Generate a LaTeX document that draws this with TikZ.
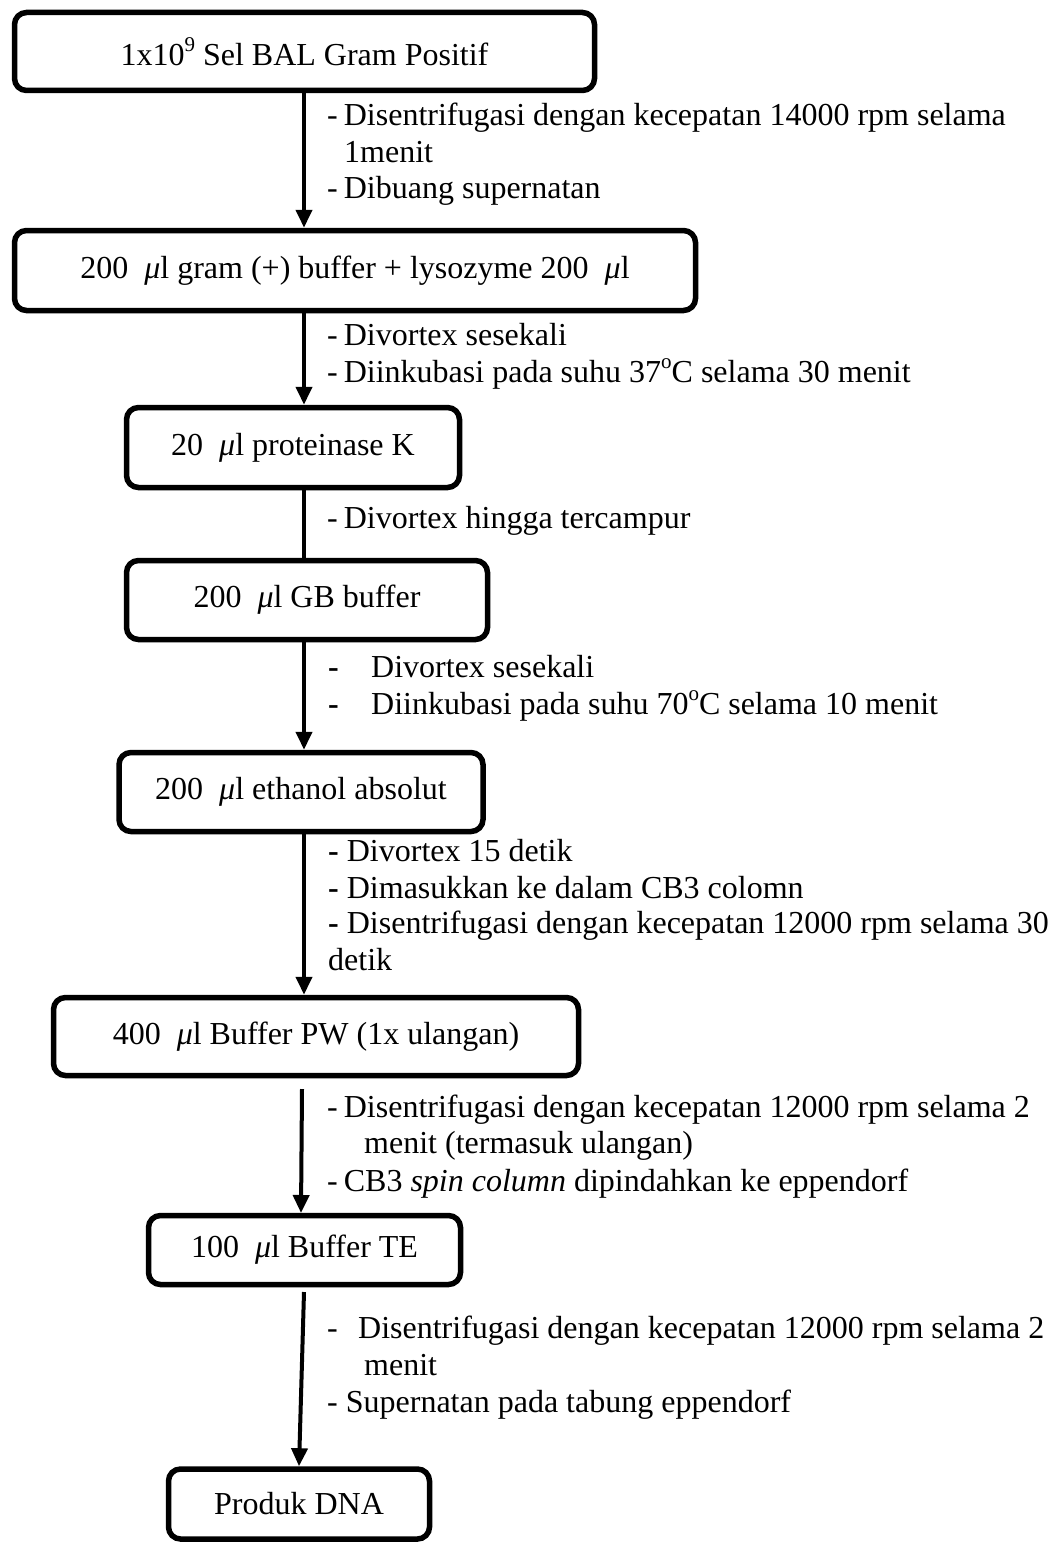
\documentclass[tikz,border=0pt]{standalone}
\usepackage{fontspec}
\setmainfont{Liberation Serif}
\usetikzlibrary{arrows.meta}
\newcommand{\mul}{{\itshape μ}l}
\newcommand{\supx}[1]{\raisebox{0.42em}{\fontsize{21}{21}\selectfont #1}}
\begin{document}
\begin{tikzpicture}[x=1pt,y=-1pt,
  box/.style={draw,line width=5.5pt,rounded corners=12pt,inner sep=0pt,align=center,
    font=\fontsize{32}{36}\selectfont},
  conn/.style={line width=4pt},
  arr/.style={conn,-{Triangle[width=16pt,length=18pt]}},
  lbl/.style={anchor=base west,inner sep=0pt,font=\fontsize{32}{36}\selectfont}]
\useasboundingbox (0,0) rectangle (1054,1544);
% boxes
\node[box,minimum width=580pt,minimum height=78pt] (B1) at (304.5,51.5) {1x10\supx{9} Sel BAL Gram Positif};
\node[box,minimum width=681pt,minimum height=80pt] (B2) at (355,270.5) {200~~\mul{} gram (+) buffer + lysozyme 200~~\mul};
\node[box,minimum width=333pt,minimum height=80pt] (B3) at (293,447.5) {20~~\mul{} proteinase K};
\node[box,minimum width=361pt,minimum height=79pt] (B4) at (307,600) {200~~\mul{} GB buffer};
\node[box,minimum width=364pt,minimum height=79pt] (B5) at (301,792) {200~~\mul{} ethanol absolut};
\node[box,minimum width=525pt,minimum height=78pt] (B6) at (316,1036.5) {400~~\mul{} Buffer PW (1x ulangan)};
\node[box,minimum width=312pt,minimum height=69pt] (B7) at (304.5,1250) {100~~\mul{} Buffer TE};
\node[box,minimum width=261pt,minimum height=70pt] (B8) at (299,1504) {Produk DNA};
% connectors
\coordinate (sp) at (304,0);
\draw[arr] (sp |- B1.south) -- (sp |- B2.north);
\draw[arr] (sp |- B2.south) -- (sp |- B3.north);
\draw[conn] (sp |- B3.south) -- (sp |- B4.north);
\draw[arr] (sp |- B4.south) -- (sp |- B5.north);
\draw[arr] (sp |- B5.south) -- (sp |- B6.north);
\coordinate (a6s) at (302,1089);
\coordinate (a6e) at (301,1213);
\draw[arr] (a6s) -- (a6e);
\coordinate (a7s) at (304,1292);
\draw[arr] (a7s) -- (B8.north);
% labels
\node[lbl] (L1a) at (327,125) {-\kern6pt Disentrifugasi dengan kecepatan 14000 rpm selama};
\node[lbl] (L1b) at (344,162) {1menit};
\node[lbl] (L1c) at (327,198) {-\kern6pt Dibuang supernatan};
\node[lbl] (L2a) at (327,345) {-\kern6pt Divortex sesekali};
\node[lbl] (L2b) at (327,382) {-\kern6pt Diinkubasi pada suhu 37\supx{o}C selama 30 menit};
\node[lbl] (L3a) at (327,528) {-\kern6pt Divortex hingga tercampur};
\node[lbl] (L4a) at (328,677) {\makebox[43pt][l]{\textbf{-}}Divortex sesekali};
\node[lbl] (L4b) at (328,714) {\makebox[43pt][l]{\textbf{-}}Diinkubasi pada suhu 70\supx{o}C selama 10 menit};
\node[lbl] (L5a) at (328,861) {\textbf{-} Divortex 15 detik};
\node[lbl] (L5b) at (328,898) {\textbf{-} Dimasukkan ke dalam CB3 colomn};
\node[lbl] (L5c) at (328,933) {\textbf{-} Disentrifugasi dengan kecepatan 12000 rpm selama 30};
\node[lbl] (L5d) at (328,970) {detik};
\node[lbl] (L6a) at (327,1117) {-\kern6pt Disentrifugasi dengan kecepatan 12000 rpm selama 2};
\node[lbl] (L6b) at (364,1153) {menit (termasuk ulangan)};
\node[lbl] (L6c) at (327,1191) {-\kern6pt CB3 \textit{spin column} dipindahkan ke eppendorf};
\node[lbl] (L7a) at (327,1338) {\makebox[31pt][l]{-}Disentrifugasi dengan kecepatan 12000 rpm selama 2};
\node[lbl] (L7b) at (364,1375) {menit};
\node[lbl] (L7c) at (327,1412) {- Supernatan pada tabung eppendorf};
\end{tikzpicture}
\end{document}
